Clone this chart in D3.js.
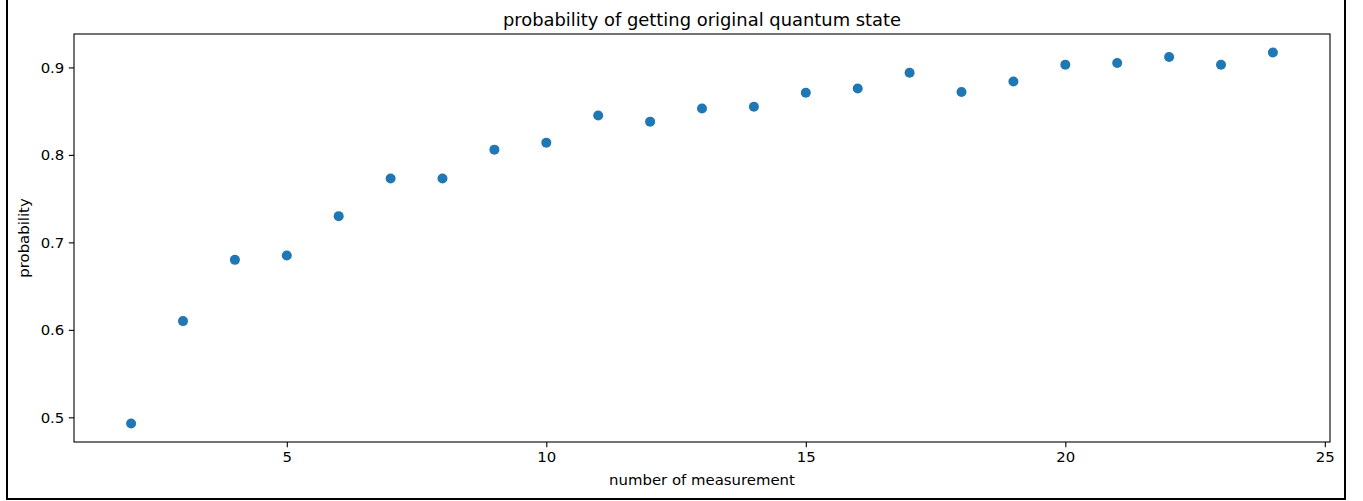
<!DOCTYPE html>
<html>
<head>
<meta charset="utf-8">
<script src="https://cdn.jsdelivr.net/npm/d3@7"></script>
<style>
    html, body { margin: 0; padding: 0; background: #fff; }
    svg { display: block; }
    text { font-family: 'DejaVu Sans', sans-serif; fill: #000; }
</style>
</head>
<body>
<div id="chart"></div>
<script>
// number of measurements
const measurements = [2, 3, 4, 5, 6, 7, 8, 9, 10, 11, 12, 13, 14, 15, 16, 17, 18, 19, 20, 21, 22, 23, 24];

// probability of getting original state
const probabilities = [
    0.493, 0.610, 0.680, 0.685, 0.730, 0.773, 0.773, 0.806, 0.814, 0.845, 0.838, 0.853,
    0.855, 0.871, 0.876, 0.894, 0.872, 0.884, 0.903, 0.905, 0.912, 0.903, 0.917,
];

const xTicks = [5, 10, 15, 20, 25];
const yTicks = [0.5, 0.6, 0.7, 0.8, 0.9];

const titleText = 'probability of getting original quantum state';
const xLabelText = 'number of measurement';
const yLabelText = 'probability';

const width = 1363;
const height = 501;
const margin = { top: 34, right: 33, bottom: 59, left: 74 };

const svg = d3.select('#chart').append('svg')
    .attr('width', width)
    .attr('height', height);

// outer frame around the figure (top edge cropped off)
svg.append('rect')
    .attr('x', 7)
    .attr('y', -5)
    .attr('width', 1345 - 7)
    .attr('height', 499 - -5)
    .attr('fill', 'none')
    .attr('stroke', '#000')
    .attr('stroke-width', 2);

const w = width - margin.left - margin.right;
const h = height - margin.top - margin.bottom;

const chart = svg.append('g')
    .attr('transform', `translate(${margin.left}, ${margin.top})`);

// matplotlib style 5% margins
const xExt = d3.extent(measurements);
const yExt = d3.extent(probabilities);
const xPad = (xExt[1] - xExt[0]) * 0.05;
const yPad = (yExt[1] - yExt[0]) * 0.05;

const x = d3.scaleLinear().domain([xExt[0] - xPad, xExt[1] + xPad]).range([0, w]);
const y = d3.scaleLinear().domain([yExt[0] - yPad, yExt[1] + yPad]).range([h, 0]);

const xAxis = chart.append('g')
    .attr('transform', `translate(0, ${h})`)
    .call(d3.axisBottom(x).tickValues(xTicks).tickFormat(d3.format('d')).tickSize(5.2).tickPadding(4.5));

const yAxis = chart.append('g')
    .call(d3.axisLeft(y).tickValues(yTicks).tickFormat(d3.format('.1f')).tickSize(5.2).tickPadding(4.5));

[xAxis, yAxis].forEach(ax => {
    ax.select('.domain').remove();
    ax.selectAll('line').attr('stroke', '#000').attr('stroke-width', 1.1);
    ax.selectAll('text').style('font-size', '14.9px').attr('fill', '#000');
});

// spines
chart.append('rect')
    .attr('width', w)
    .attr('height', h)
    .attr('fill', 'none')
    .attr('stroke', '#000')
    .attr('stroke-width', 1.1);

chart.selectAll('.dot')
    .data(measurements)
    .join('circle')
    .attr('class', 'dot')
    .attr('cx', d => x(d))
    .attr('cy', (d, i) => y(probabilities[i]))
    .attr('r', 5)
    .attr('fill', '#1f77b4');

chart.append('text')
    .attr('x', w / 2)
    .attr('y', -8.5)
    .attr('text-anchor', 'middle')
    .style('font-size', '17.9px')
    .text(titleText);

chart.append('text')
    .attr('x', w / 2)
    .attr('y', h + 43)
    .attr('text-anchor', 'middle')
    .style('font-size', '14.9px')
    .text(xLabelText);

chart.append('text')
    .attr('transform', `translate(${-74 + 29}, ${h / 2}) rotate(-90)`)
    .attr('text-anchor', 'middle')
    .style('font-size', '14.9px')
    .text(yLabelText);
</script>
</body>
</html>
